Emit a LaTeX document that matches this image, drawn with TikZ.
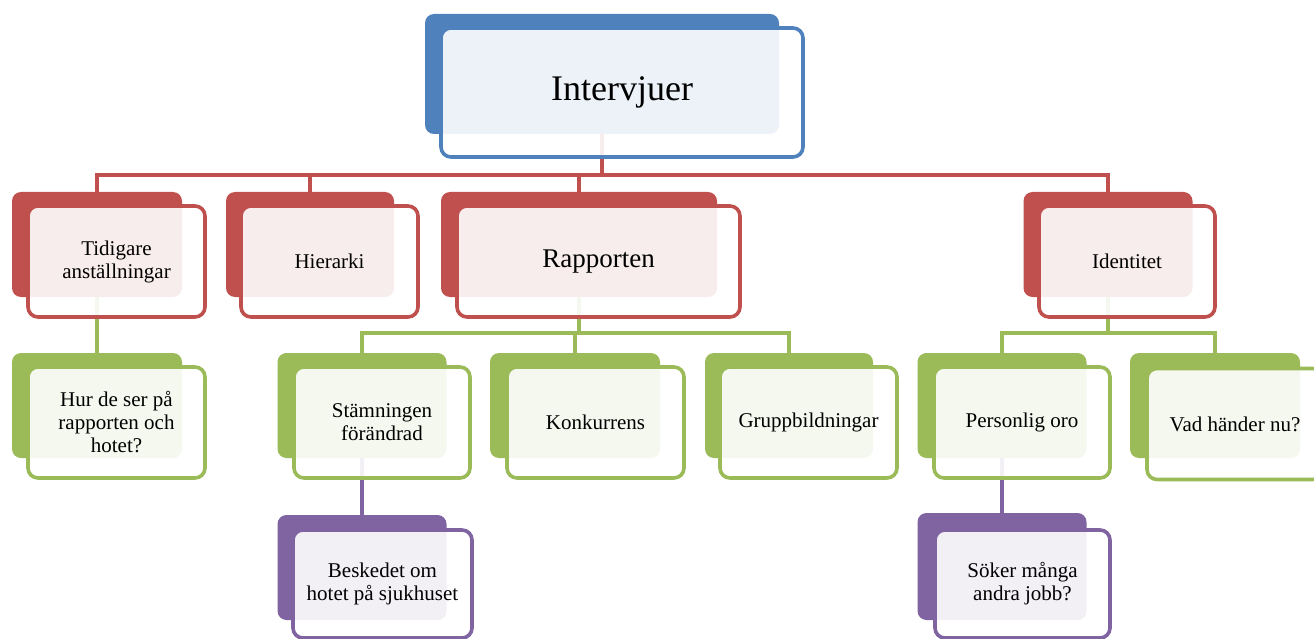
\documentclass[tikz,border=0pt]{standalone}
\usepackage{fontspec}
\setmainfont{Liberation Serif}
\definecolor{cblue}{HTML}{4F81BD}
\definecolor{cred}{HTML}{C0504D}
\definecolor{cgreen}{HTML}{9BBB59}
\definecolor{cpurple}{HTML}{8064A2}
\tikzset{
  backbox/.style={fill=#1, draw=none, rounded corners=9pt, inner sep=0pt},
  frontbox/.style={draw=#1, line width=3.6pt, fill=white, fill opacity=0.9, text opacity=1,
    rounded corners=10pt, align=center, inner sep=2pt, text=black},
  conn/.style={draw=#1, line width=3.6pt},
  lvl/.style={font=\fontsize{21}{23}\selectfont},
}
\begin{document}
\begin{tikzpicture}[x=1pt,y=-1pt]
\useasboundingbox (0,0) rectangle (1314,639);

% ---- back boxes ----
\path
 (602,74)     node[backbox=cblue,  minimum width=354, minimum height=120] (topB) {}
 (97,244.5)   node[backbox=cred,   minimum width=170, minimum height=105] (tidB) {}
 (310,244.5)  node[backbox=cred,   minimum width=168, minimum height=105] (hieB) {}
 (579,244.5)  node[backbox=cred,   minimum width=276, minimum height=105] (rapB) {}
 (1108,244.5) node[backbox=cred,   minimum width=169, minimum height=105] (idB) {}
 (97,405.5)   node[backbox=cgreen, minimum width=170, minimum height=105] (hurB) {}
 (362,405.5)  node[backbox=cgreen, minimum width=169, minimum height=105] (stB) {}
 (575,405.5)  node[backbox=cgreen, minimum width=170, minimum height=105] (konB) {}
 (789,405.5)  node[backbox=cgreen, minimum width=168, minimum height=105] (grB) {}
 (1002,405.5) node[backbox=cgreen, minimum width=169, minimum height=105] (perB) {}
 (1215,405.5) node[backbox=cgreen, minimum width=170, minimum height=105] (vadB) {}
 (362,567.5)  node[backbox=cpurple,minimum width=169, minimum height=105] (besB) {}
 (1002,566.5) node[backbox=cpurple,minimum width=169, minimum height=107] (sokB) {};

% ---- connectors ----
\coordinate (busR) at (0,175);
\coordinate (busG) at (0,333);
\foreach \c in {tidB,hieB,rapB,idB}
  \draw[conn=cred] (topB.south) -- (topB.south |- busR) -| (\c.north);
\foreach \c in {stB,konB,grB}
  \draw[conn=cgreen] (rapB.south) -- (rapB.south |- busG) -| (\c.north);
\foreach \c in {perB,vadB}
  \draw[conn=cgreen] (idB.south) -- (idB.south |- busG) -| (\c.north);
\draw[conn=cgreen] (tidB.south) -- (hurB.north);
\draw[conn=cpurple] (stB.south) -- (besB.north);
\draw[conn=cpurple] (perB.south) -- (sokB.north);

% ---- front boxes ----
\node[frontbox=cblue, minimum width=362, minimum height=129, font=\fontsize{36}{40}\selectfont] (top) at (622,92.5) {Intervjuer};
\node[frontbox=cred, lvl, minimum width=177, minimum height=111] (tid) at (116.5,261.5) {Tidigare\\anställningar};
\node[frontbox=cred, lvl, minimum width=177, minimum height=111] (hie) at (329.5,261.5) {Hierarki};
\node[frontbox=cred, minimum width=283, minimum height=111, font=\fontsize{27}{30}\selectfont] (rap) at (598.5,261.5) {Rapporten};
\node[frontbox=cred, lvl, minimum width=176, minimum height=111] (id) at (1127,261.5) {Identitet};
\node[frontbox=cgreen, lvl, minimum width=177, minimum height=111] (hur) at (116.5,422.5) {Hur de ser på\\rapporten och\\hotet?};
\node[frontbox=cgreen, lvl, minimum width=176, minimum height=111] (st) at (382,422.5) {Stämningen\\förändrad};
\node[frontbox=cgreen, lvl, minimum width=177, minimum height=111] (kon) at (595.5,422.5) {Konkurrens};
\node[frontbox=cgreen, lvl, minimum width=177, minimum height=111] (gr) at (808.5,422.5) {Gruppbildningar};
\node[frontbox=cgreen, lvl, minimum width=176, minimum height=111] (per) at (1022,422.5) {Personlig oro};
\node[frontbox=cgreen, lvl, minimum width=176, minimum height=111] (vad) at (1235,424) {Vad händer nu?};
\node[frontbox=cpurple, lvl, minimum width=179, minimum height=108] (bes) at (382.5,584) {Beskedet om\\hotet på sjukhuset};
\node[frontbox=cpurple, lvl, minimum width=175, minimum height=108] (sok) at (1022.5,584) {Söker många\\andra jobb?};
\end{tikzpicture}
\end{document}
